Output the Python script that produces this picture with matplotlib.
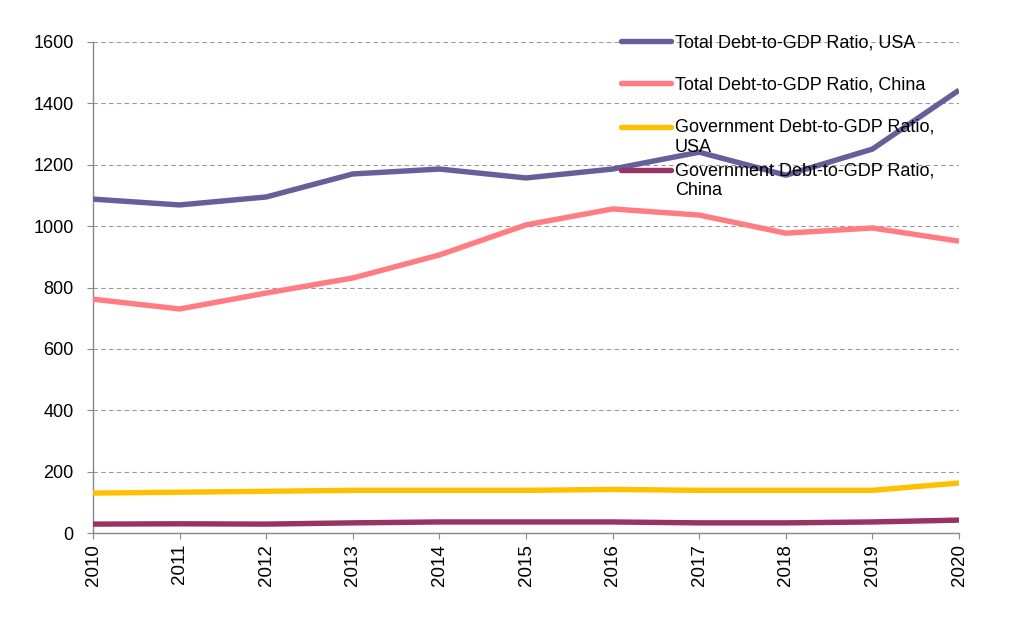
import matplotlib
matplotlib.use("Agg")
import numpy as np
import matplotlib.pyplot as plt
from matplotlib.lines import Line2D
from matplotlib.legend_handler import HandlerLine2D

plt.rcParams['font.family'] = ['Liberation Sans', 'DejaVu Sans']

years = [2010, 2011, 2012, 2013, 2014, 2015, 2016, 2017, 2018, 2019, 2020]
total_usa = [1088, 1069, 1095, 1170, 1186, 1157, 1186, 1241, 1166, 1251, 1443]
total_china = [762, 730, 782, 831, 906, 1004, 1056, 1036, 977, 994, 951]
gov_usa = [130, 133, 136, 139, 139, 139, 142, 139, 139, 139, 163]
gov_china = [29, 30, 29, 33, 36, 36, 36, 33, 33, 36, 42]

labels = ["Total Debt-to-GDP Ratio, USA",
          "Total Debt-to-GDP Ratio, China",
          "Government Debt-to-GDP Ratio,\nUSA",
          "Government Debt-to-GDP Ratio,\nChina"]
colors = ["#65609A", "#FF7C80", "#FFC000", "#993366"]
series = [total_usa, total_china, gov_usa, gov_china]


class ShiftedLineHandler(HandlerLine2D):
    def __init__(self, dy=0.0, **kw):
        super().__init__(**kw)
        self.dy = dy

    def create_artists(self, legend, orig_handle, xdescent, ydescent,
                       width, height, fontsize, trans):
        arts = super().create_artists(legend, orig_handle, xdescent, ydescent,
                                      width, height, fontsize, trans)
        for a in arts:
            a.set_ydata(np.asarray(a.get_ydata(), dtype=float) + self.dy)
        return arts


fig = plt.figure(figsize=(10.21, 6.24), dpi=100)
ax = fig.add_axes([93/1021, 1-533/624, (959-93)/1021, (533-42)/624])

for s, c in zip(series, colors):
    ax.plot(years, s, color=c, lw=3.9, solid_capstyle='butt', zorder=3)

ax.set_xlim(2010, 2020)
ax.set_ylim(0, 1600)
ax.set_xticks(years)
ax.set_xticklabels([str(y) for y in years], rotation=90, fontsize=13.5)
ax.set_yticks(range(0, 1601, 200))
ax.tick_params(axis='y', labelsize=13, direction='out', length=4.5, color='#888888', pad=9.5)
ax.tick_params(axis='x', direction='out', length=4.5, color='#888888', pad=3.5)
ax.yaxis.grid(True, linestyle=(0, (4, 3)), color='#999999', lw=0.8)
ax.set_axisbelow(True)
for sp in ['top', 'right']:
    ax.spines[sp].set_visible(False)
for sp in ['left', 'bottom']:
    ax.spines[sp].set_color('#888888')
    ax.spines[sp].set_linewidth(1.0)

# legend entries placed in Excel-like fixed slots
fs_leg = 13
slot_y = [42, 84, 127, 170]
for lab, c, yy in zip(labels, colors, slot_y):
    h = Line2D([], [], color=c, lw=3.9, solid_capstyle='round')
    nlines = lab.count("\n") + 1
    dy = 7.5 * (nlines - 1)
    lg = fig.legend([h], [lab], loc='upper left',
                    bbox_to_anchor=(621/1021, 1-(yy-8)/624),
                    frameon=False, fontsize=fs_leg, handlelength=2.75,
                    handletextpad=0.22, borderpad=0, borderaxespad=0,
                    handler_map={h: ShiftedLineHandler(dy=dy)})
    for t in lg.get_texts():
        t.set_linespacing(1.26)

fig.savefig("out.png", dpi=100)
